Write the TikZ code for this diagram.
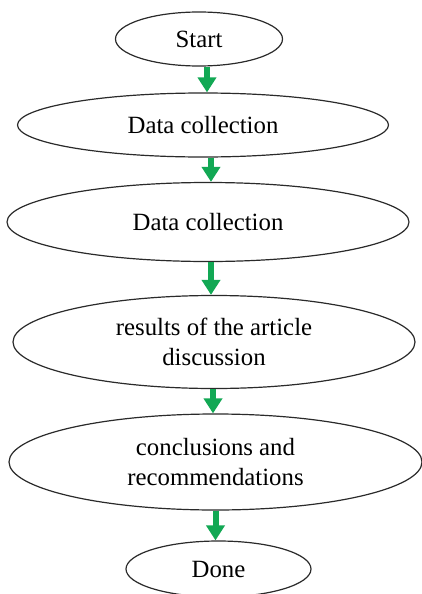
\documentclass[tikz,border=0pt]{standalone}
\usepackage{fontspec}
\setmainfont{Liberation Serif}
\usetikzlibrary{arrows.meta, shapes.geometric}
\definecolor{cgreen}{HTML}{12A854}
\definecolor{cline}{HTML}{2A2A2A}
\tikzset{
  every picture/.style={font=\fontsize{12.4}{15}\selectfont},
  oval/.style={ellipse, draw=cline, line width=0.6pt, fill=white, align=center, inner sep=1pt, minimum width=#1},
  flow/.style={-{Triangle[width=9pt, length=7.5pt]}, draw=cgreen, line width=3pt},
}
\begin{document}
\begin{tikzpicture}[x=0.5pt, y=-0.5pt]
  \clip (0,0) rectangle (422,594);
  % the steps, top to bottom
  \node[oval=83.5pt, minimum height=27pt] (start) at (199,39) {Start};
  \node[oval=185.5pt, minimum height=32pt] (coll1) at (203,125) {Data collection};
  \node[oval=201pt, minimum height=39.5pt] (coll2) at (208,222) {Data collection};
  \node[oval=201pt, minimum height=46.5pt] (res) at (214,342) {results of the article\\discussion};
  \node[oval=206.5pt, minimum height=48pt] (concl) at (215.5,462) {conclusions and\\recommendations};
  \node[oval=92.5pt, minimum height=28pt] (done) at (218.5,569) {Done};
  \foreach \a/\b/\dx in {start/coll1/4pt, coll1/coll2/4pt, coll2/res/1.5pt, res/concl/-0.5pt, concl/done/0pt}
    \draw[flow] ([xshift=\dx]\a.south) -- ([xshift=\dx]\a.south |- \b.north);
\end{tikzpicture}
\end{document}
